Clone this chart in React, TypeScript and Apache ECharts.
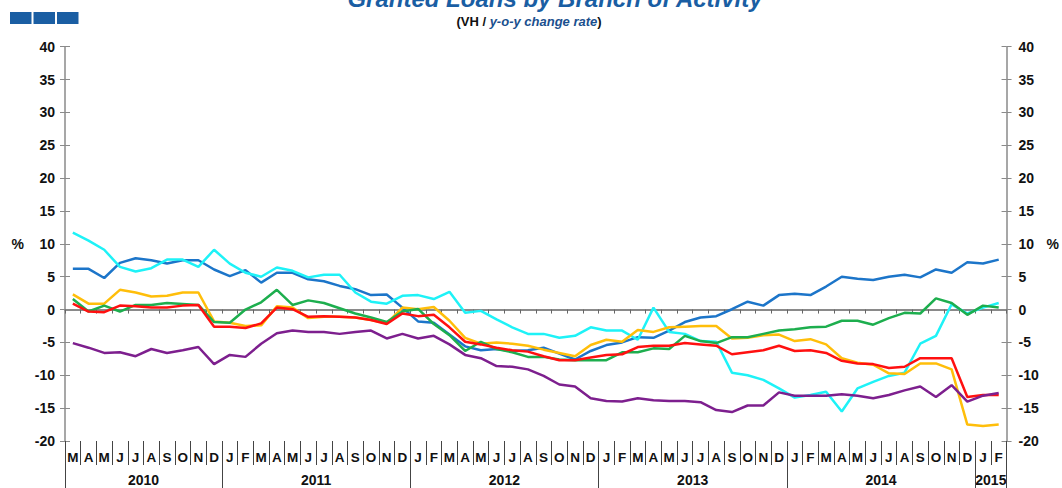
import React, { useEffect, useRef } from 'react';
import * as echarts from 'echarts';

// ---- Categories ----
const yearLabels = ['2010', '2011', '2012', '2013', '2014', '2015'];
const monthsPerYear = [10, 12, 12, 12, 12, 2];
const monthLetters = [
  'M', 'A', 'M', 'J', 'J', 'A', 'S', 'O', 'N', 'D',
  'J', 'F', 'M', 'A', 'M', 'J', 'J', 'A', 'S', 'O', 'N', 'D',
  'J', 'F', 'M', 'A', 'M', 'J', 'J', 'A', 'S', 'O', 'N', 'D',
  'J', 'F', 'M', 'A', 'M', 'J', 'J', 'A', 'S', 'O', 'N', 'D',
  'J', 'F', 'M', 'A', 'M', 'J', 'J', 'A', 'S', 'O', 'N', 'D',
  'J', 'F',
];
const yTicks = { min: -20, max: 40, interval: 5 };

// ---- Series values (y-o-y %) ----
const blueSeries = [
  6.2, 6.2, 4.8, 7.1, 7.8, 7.5, 7.0, 7.5, 7.5, 6.1,
  5.1, 6.0, 4.1, 5.6, 5.6, 4.6, 4.3, 3.6, 3.1, 2.2, 2.3, 0.3,
  -1.8, -2.0, -3.8, -5.6, -6.2, -6.0, -6.3, -6.2, -5.8, -6.7, -7.6, -6.3,
  -5.4, -5.0, -4.2, -4.3, -3.2, -1.9, -1.2, -1.0, 0.05, 1.2, 0.6, 2.2,
  2.4, 2.2, 3.5, 5.0, 4.7, 4.5, 5.0, 5.3, 4.9, 6.1, 5.6, 7.2,
  7.0, 7.6,
];
const cyanSeries = [
  11.7, 10.5, 9.1, 6.5, 5.8, 6.3, 7.6, 7.6, 6.5, 9.1,
  7.0, 5.6, 5.0, 6.4, 5.9, 4.9, 5.3, 5.3, 2.6, 1.2, 0.9, 2.1,
  2.2, 1.6, 2.7, -0.5, -0.2, -1.5, -2.7, -3.7, -3.7, -4.3, -4.0, -2.7,
  -3.2, -3.2, -4.6, 0.3, -3.4, -3.7, -4.8, -4.9, -9.6, -10.0, -10.7, -12.0,
  -13.4, -13.0, -12.5, -15.5, -12.0, -11.0, -10.1, -9.6, -5.2, -4.0, 0.8, -0.6,
  0.3, 1.0,
];
const orangeSeries = [
  2.3, 0.9, 0.9, 3.0, 2.6, 2.0, 2.1, 2.6, 2.6, -1.8,
  -2.0, -2.5, -2.4, 0.5, 0.3, -1.3, -1.1, -1.1, -1.2, -1.6, -2.1, 0.3,
  0.05, 0.4, -1.7, -4.3, -5.2, -5.0, -5.2, -5.5, -6.1, -6.6, -7.1, -5.4,
  -4.6, -4.9, -3.1, -3.4, -2.7, -2.6, -2.5, -2.5, -4.4, -4.3, -3.9, -3.8,
  -4.8, -4.5, -5.3, -7.4, -8.1, -8.4, -9.7, -9.8, -8.2, -8.2, -9.1, -17.5,
  -17.7, -17.5,
];
const greenSeries = [
  1.6, -0.3, 0.6, -0.3, 0.7, 0.7, 1.0, 0.85, 0.7, -1.9,
  -2.0, 0.0, 1.1, 3.0, 0.7, 1.4, 1.0, 0.2, -0.6, -1.2, -1.9, -0.3,
  0.1, -2.2, -3.9, -6.3, -4.9, -6.0, -6.5, -7.2, -7.2, -7.6, -7.7, -7.7,
  -7.7, -6.5, -6.5, -5.9, -6.0, -4.0, -4.8, -5.1, -4.2, -4.2, -3.7, -3.2,
  -3.0, -2.7, -2.6, -1.7, -1.7, -2.3, -1.3, -0.5, -0.6, 1.7, 1.0, -0.8,
  0.6, 0.3,
];
const redSeries = [
  0.9, -0.3, -0.4, 0.6, 0.5, 0.3, 0.3, 0.6, 0.7, -2.6,
  -2.6, -2.8, -2.1, 0.3, 0.05, -1.1, -1.0, -1.1, -1.2, -1.6, -2.2, -0.6,
  -1.0, -0.8, -2.7, -4.9, -5.3, -5.8, -6.2, -6.4, -7.1, -7.7, -7.7, -7.3,
  -6.9, -6.8, -5.7, -5.5, -5.5, -5.1, -5.3, -5.5, -6.8, -6.5, -6.2, -5.5,
  -6.3, -6.2, -6.6, -7.8, -8.2, -8.3, -8.9, -8.7, -7.4, -7.4, -7.4, -13.3,
  -13.0, -13.0,
];
const purpleSeries = [
  -5.1, -5.8, -6.6, -6.5, -7.1, -6.0, -6.6, -6.2, -5.7, -8.3,
  -6.9, -7.2, -5.2, -3.6, -3.2, -3.4, -3.4, -3.7, -3.4, -3.2, -4.4, -3.7,
  -4.4, -4.0, -5.3, -6.9, -7.4, -8.6, -8.7, -9.1, -10.1, -11.4, -11.7, -13.5,
  -13.9, -14.0, -13.5, -13.8, -13.9, -13.9, -14.1, -15.3, -15.6, -14.6, -14.6, -12.6,
  -13.1, -13.1, -13.1, -12.9, -13.1, -13.5, -13.0, -12.3, -11.7, -13.3, -11.5, -14.0,
  -13.1, -12.7,
];

const seriesDefs = [
  { name: 'Blue', data: blueSeries, color: '#1C75C9' },
  { name: 'Cyan', data: cyanSeries, color: '#1EF2F7' },
  { name: 'Orange', data: orangeSeries, color: '#FFBE0A' },
  { name: 'Green', data: greenSeries, color: '#1DAE4E' },
  { name: 'Red', data: redSeries, color: '#FF1010' },
  { name: 'Purple', data: purpleSeries, color: '#7D1F8E' },
];

// derived category helpers
const categoryYear: string[] = [];
const yearStartIdx: number[] = [];
{
  let s = 0;
  yearLabels.forEach((y, k) => {
    yearStartIdx.push(s);
    for (let j = 0; j < monthsPerYear[k]; j++) categoryYear.push(y);
    s += monthsPerYear[k];
  });
}
const categories = monthLetters.map((m, i) => `${categoryYear[i]}|${m}|${i}`);

const FONT = 'Liberation Sans, Arial, sans-serif';
const TITLE_BLUE = '#1A5EA3';

export default function App() {
  const ref = useRef<HTMLDivElement>(null);

  useEffect(() => {
    if (!ref.current) return;
    const chart = echarts.init(ref.current, undefined, { renderer: 'svg' });
    const labelStyle = { fontFamily: FONT, fontWeight: 'bold', fontSize: 14, color: '#111' };
    const yBase = { type: 'value', min: yTicks.min, max: yTicks.max, interval: yTicks.interval, splitLine: { show: false } };

    chart.setOption({
      animation: false,
      backgroundColor: '#ffffff',
      grid: { left: 65, right: 45, top: 46.7, bottom: 47, containLabel: false },
      xAxis: [
        {
          type: 'category', data: categories, boundaryGap: true, position: 'bottom',
          axisLine: { show: true, onZero: true, lineStyle: { color: '#8a8a8a', width: 2 } },
          axisTick: { show: true, interval: 0, length: 4, lineStyle: { color: '#666', width: 1 } },
          axisLabel: { show: false }, splitLine: { show: false },
        },
        {
          type: 'category', data: categories, boundaryGap: true, position: 'bottom',
          axisLine: { show: false, onZero: false },
          axisTick: { show: true, interval: 0, length: 24, lineStyle: { color: '#444', width: 1 } },
          axisLabel: {
            show: true, interval: 0, margin: 9, ...labelStyle, fontSize: 13.5,
            formatter: (v: string) => v.split('|')[1],
          },
          splitLine: { show: false },
        },
        {
          type: 'category', data: categories, boundaryGap: true, position: 'bottom',
          axisLine: { show: false, onZero: false },
          axisTick: {
            show: true, length: 47, lineStyle: { color: '#444', width: 1 },
            interval: (i: number) => yearStartIdx.includes(i),
          },
          axisLabel: { show: false },
          splitLine: { show: false },
        },
      ],
      yAxis: [
        {
          ...yBase, position: 'left',
          axisLine: { show: true, lineStyle: { color: '#8a8a8a', width: 1.5 } },
          axisTick: { show: true, length: 5, lineStyle: { color: '#8a8a8a', width: 1 } },
          axisLabel: { ...labelStyle, margin: 10 },
          name: '%', nameLocation: 'middle', nameRotate: 0, nameGap: 41,
          nameTextStyle: { ...labelStyle },
        },
        {
          ...yBase, position: 'right',
          axisLine: { show: true, lineStyle: { color: '#8a8a8a', width: 1.5 } },
          axisTick: { show: true, length: 5, lineStyle: { color: '#8a8a8a', width: 1 } },
          axisLabel: { ...labelStyle, margin: 12 },
          name: '%', nameLocation: 'middle', nameRotate: 0, nameGap: 40,
          nameTextStyle: { ...labelStyle },
        },
        {
          ...yBase, position: 'left',
          axisLine: { show: false },
          axisTick: { show: true, inside: true, length: 5, lineStyle: { color: '#8a8a8a', width: 1 } },
          axisLabel: { show: false },
        },
        {
          ...yBase, position: 'right',
          axisLine: { show: false },
          axisTick: { show: true, inside: true, length: 5, lineStyle: { color: '#8a8a8a', width: 1 } },
          axisLabel: { show: false },
        },
      ],
      series: seriesDefs.map((s) => ({
        type: 'line', name: s.name, data: s.data, xAxisIndex: 0, yAxisIndex: 0,
        symbol: 'none', smooth: false,
        lineStyle: { color: s.color, width: 2.5 },
        itemStyle: { color: s.color },
      })),
    });

    // year labels centred under each year's span of months, positioned through the axis scale
    const yBottom = chart.convertToPixel({ yAxisIndex: 0 }, yTicks.min) as number;
    const yearTexts = yearLabels.map((y, k) => {
      const s = yearStartIdx[k];
      const e = s + monthsPerYear[k] - 1;
      const xs = chart.convertToPixel({ xAxisIndex: 0 }, categories[s]) as number;
      const xe = chart.convertToPixel({ xAxisIndex: 0 }, categories[e]) as number;
      return {
        type: 'text', x: (xs + xe) / 2, y: yBottom + 39,
        style: {
          text: y, font: 'bold 14px ' + FONT, fill: '#111',
          textAlign: 'center', textVerticalAlign: 'middle',
        },
      };
    });

    chart.setOption({
      graphic: [
        { type: 'rect', shape: { x: 10, y: 12, width: 21.5, height: 12 }, style: { fill: TITLE_BLUE } },
        { type: 'rect', shape: { x: 33.5, y: 12, width: 21.5, height: 12 }, style: { fill: TITLE_BLUE } },
        { type: 'rect', shape: { x: 57, y: 12, width: 21.5, height: 12 }, style: { fill: TITLE_BLUE } },
        {
          type: 'text', x: 555, y: 10,
          style: {
            text: 'Granted Loans by Branch of Activity',
            font: 'italic bold 24px ' + FONT, fill: TITLE_BLUE,
            textAlign: 'center', textVerticalAlign: 'bottom',
          },
        },
        {
          type: 'text', x: 529, y: 21,
          style: {
            text: '{a|(VH / }{b|y-o-y change rate}{a|)}',
            textAlign: 'center', textVerticalAlign: 'middle',
            rich: {
              a: { fontFamily: FONT, fontWeight: 'bold', fontSize: 13, fill: '#111', color: '#111' },
              b: { fontFamily: FONT, fontWeight: 'bold', fontStyle: 'italic', fontSize: 13, fill: '#1A4F8E', color: '#1A4F8E' },
            },
          },
        },
        ...yearTexts,
      ],
    });

    return () => chart.dispose();
  }, []);

  return (
    <div
      ref={ref}
      style={{ position: 'absolute', left: 0, top: 0, width: 1062, height: 488, background: '#fff' }}
    />
  );
}
